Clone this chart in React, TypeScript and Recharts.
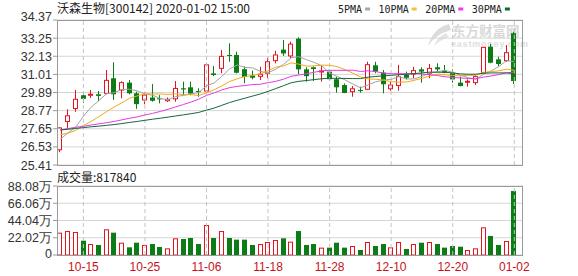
import React from 'react';
import { ComposedChart, Bar, Line, XAxis, YAxis, CartesianGrid, ReferenceLine } from 'recharts';

const title = '沃森生物[300142] 2020-01-02 15:00';
const volumeLabel = '成交量';

const dates = [
  '10-10', '10-11', '10-14', '10-15', '10-16', '10-17', '10-18', '10-21', '10-22', '10-23',
  '10-24', '10-25', '10-28', '10-29', '10-30', '10-31', '11-01', '11-04', '11-05', '11-06',
  '11-07', '11-08', '11-11', '11-12', '11-13', '11-14', '11-15', '11-18', '11-19', '11-20',
  '11-21', '11-22', '11-25', '11-26', '11-27', '11-28', '11-29', '12-02', '12-03', '12-04',
  '12-05', '12-06', '12-09', '12-10', '12-11', '12-12', '12-13', '12-16', '12-17', '12-18',
  '12-19', '12-20', '12-23', '12-24', '12-25', '12-26', '12-27', '12-30', '12-31', '01-02',
];

const open = [
  26.35, 28.1, 28.9, 29.72, 29.72, 29.78, 29.84, 30.77, 30.04, 30.5,
  29.84, 29.43, 29.58, 29.53, 29.38, 29.5, 30.15, 30.21, 29.98, 29.98,
  31.07, 31.38, 32.21, 32.21, 31.33, 30.95, 30.89, 31.08, 31.86, 32.54,
  32.15, 33.22, 31.32, 31.45, 31.16, 31.18, 30.71, 30.35, 29.94, 30.04,
  30.09, 31.57, 31.12, 30.12, 30.32, 31.0, 31.03, 31.32, 31.08, 31.45,
  31.24, 31.08, 30.5, 30.52, 30.5, 31.11, 32.72, 31.94, 31.86, 33.55,
];
const high = [
  27.75, 28.85, 30.05, 29.92, 30.05, 29.98, 31.28, 31.76, 30.58, 30.66,
  29.94, 29.88, 30.41, 29.73, 29.58, 30.6, 30.56, 30.56, 30.15, 31.73,
  31.53, 32.52, 32.93, 32.41, 31.5, 31.24, 31.48, 32.04, 32.47, 33.13,
  33.03, 33.3, 31.45, 31.5, 31.53, 31.3, 30.87, 30.45, 30.29, 30.25,
  31.79, 31.79, 31.28, 30.6, 31.6, 31.18, 31.48, 31.45, 31.65, 31.69,
  31.59, 31.32, 30.87, 30.7, 30.97, 32.7, 32.9, 32.1, 32.82, 33.65,
];
const low = [
  26.2, 27.7, 28.7, 29.26, 29.55, 29.36, 29.78, 29.43, 29.53, 29.78,
  28.88, 29.16, 29.33, 29.22, 29.3, 29.32, 29.73, 29.72, 29.63, 29.9,
  30.9, 31.08, 31.79, 31.07, 30.46, 30.7, 30.66, 30.77, 31.69, 32.15,
  31.98, 31.01, 30.56, 30.6, 30.56, 30.6, 29.88, 29.85, 29.63, 29.88,
  30.04, 31.08, 29.84, 30.0, 30.0, 30.7, 30.77, 30.5, 30.77, 31.18,
  31.08, 30.5, 30.27, 30.25, 30.35, 31.07, 31.7, 31.52, 31.79, 30.42,
];
const close = [
  27.7, 28.45, 29.47, 29.5, 29.78, 29.68, 30.64, 29.78, 30.5, 29.84,
  29.17, 29.73, 29.38, 29.47, 29.47, 30.14, 30.08, 29.82, 29.92, 31.6,
  30.97, 32.12, 32.15, 31.11, 30.85, 30.8, 31.02, 31.79, 32.21, 32.3,
  32.88, 31.32, 30.9, 31.34, 31.22, 30.71, 30.21, 29.86, 30.12, 29.98,
  31.61, 31.18, 30.4, 30.35, 30.87, 30.8, 31.24, 31.18, 31.38, 31.32,
  31.11, 30.7, 30.29, 30.58, 30.87, 32.68, 31.73, 31.65, 32.35, 30.6,
];
const volume = [
  285000, 306000, 294000, 183000, 140000, 128000, 328000, 285000, 157000, 98000,
  157000, 128000, 140000, 102000, 85000, 213000, 204000, 217000, 140000, 383000,
  217000, 306000, 217000, 196000, 196000, 128000, 140000, 166000, 191000, 213000,
  170000, 306000, 128000, 140000, 94000, 94000, 157000, 94000, 115000, 64000,
  166000, 115000, 140000, 98000, 166000, 77000, 140000, 157000, 166000, 140000,
  94000, 115000, 106000, 64000, 85000, 353000, 243000, 128000, 179000, 817840,
];
const ma5 = [
  27.0, 27.4, 27.75, 28.42, 28.98, 29.38, 29.81, 29.88, 30.08, 30.09,
  29.99, 29.8, 29.72, 29.52, 29.44, 29.64, 29.71, 29.8, 29.89, 30.31,
  30.48, 30.89, 31.35, 31.59, 31.44, 31.41, 31.19, 31.11, 31.33, 31.62,
  32.04, 32.1, 31.92, 31.75, 31.53, 31.1, 30.88, 30.67, 30.42, 30.18,
  30.36, 30.55, 30.66, 30.7, 30.88, 30.72, 30.73, 30.89, 31.09, 31.18,
  31.25, 31.14, 30.96, 30.8, 30.71, 31.02, 31.23, 31.5, 31.86, 31.8,
];
const ma10 = [
  27.28, 27.38, 27.55, 27.85, 28.1, 28.4, 28.7, 29.0, 29.25, 29.53,
  29.68, 29.81, 29.8, 29.8, 29.77, 29.81, 29.76, 29.76, 29.7, 29.88,
  30.06, 30.3, 30.57, 30.74, 30.88, 30.94, 31.04, 31.23, 31.46, 31.53,
  31.72, 31.64, 31.52, 31.54, 31.58, 31.57, 31.49, 31.3, 31.09, 30.85,
  30.73, 30.71, 30.66, 30.56, 30.53, 30.54, 30.64, 30.77, 30.9, 31.03,
  30.98, 30.94, 30.92, 30.95, 30.95, 31.14, 31.18, 31.23, 31.33, 31.26,
];
const ma20 = [
  27.58, 27.66, 27.74, 27.8, 27.88, 27.95, 28.02, 28.1, 28.2, 28.3,
  28.38, 28.5, 28.6, 28.72, 28.85, 29.0, 29.15, 29.3, 29.48, 29.71,
  29.87, 30.05, 30.19, 30.27, 30.32, 30.38, 30.4, 30.5, 30.58, 30.71,
  30.89, 30.97, 31.05, 31.14, 31.23, 31.26, 31.26, 31.26, 31.27, 31.19,
  31.23, 31.18, 31.09, 31.05, 31.05, 31.05, 31.06, 31.03, 30.99, 30.94,
  30.86, 30.82, 30.79, 30.76, 30.74, 30.84, 30.91, 31.0, 31.11, 31.14,
];
const ma30 = [
  27.57, 27.62, 27.67, 27.72, 27.77, 27.81, 27.86, 27.91, 27.97, 28.04,
  28.1, 28.17, 28.24, 28.3, 28.37, 28.44, 28.51, 28.58, 28.66, 28.8,
  28.93, 29.1, 29.27, 29.41, 29.54, 29.67, 29.8, 29.96, 30.13, 30.31,
  30.49, 30.58, 30.63, 30.69, 30.74, 30.77, 30.76, 30.76, 30.75, 30.75,
  30.84, 30.88, 30.92, 30.95, 30.99, 31.02, 31.06, 31.1, 31.15, 31.14,
  31.14, 31.1, 31.04, 31.02, 31.02, 31.08, 31.1, 31.1, 31.1, 31.05,
];

const priceTicks = [25.41, 26.53, 27.65, 28.77, 29.89, 31.01, 32.13, 33.25, 34.37];
const volumeTicks = [0, 220200, 440400, 660600, 880800];
const tickDates = ['10-15', '10-25', '11-06', '11-18', '11-28', '12-10', '12-20', '01-02'];
const legendLabels = ['5PMA', '10PMA', '20PMA', '30PMA'];

// styles
const RED = '#e3141e';
const GREEN = '#0b7d14';
const MA_COLORS = ['#a2a2a2', '#f0aa18', '#e53ae0', '#17663a'];
const LEGEND_COLORS = ['#a8a8a8', '#f5c23a', '#ee3cee', '#0c6b2c'];
const FONT = "'Liberation Sans', Arial, sans-serif";
const CJK = "'Noto Sans CJK SC', 'Noto Sans', sans-serif";
const MONO = "'DejaVu Sans Mono', 'Liberation Mono', monospace";
const BORDER = '#9a9a9a';
const GRID = '#d6d6d6';
const VGRID = '#c4c4c4';

const PLOT_L = 57;
const PLOT_R = 523;
const P_TOP = 20;
const P_BOT = 165;
const P_H = 178;
const V_TOP = 186;
const V_BOT = 255;
const X_DOMAIN: [number, number] = [-0.43, 60.13];

function CandleShape(props: any) {
  const { x, y, width, height, payload } = props;
  if (x == null || y == null || !payload) return null;
  const top = Math.min(y, y + height);
  const bot = Math.max(y, y + height);
  const span = payload.high - payload.low;
  const py = (v: number) => (span > 0 ? top + ((payload.high - v) / span) * (bot - top) : top);
  const up = payload.close >= payload.open;
  const cx = Math.floor(x + width / 2) + 0.5;
  const yo = py(payload.open);
  const yc = py(payload.close);
  const bt = Math.min(yo, yc);
  let bb = Math.max(yo, yc);
  if (bb - bt < 1) bb = bt + 1;
  if (up) {
    return (
      <g>
        <line x1={cx} x2={cx} y1={top} y2={bt} stroke={RED} strokeWidth={1} />
        <line x1={cx} x2={cx} y1={bb} y2={bot} stroke={RED} strokeWidth={1} />
        <rect x={cx - 2} y={bt} width={4} height={bb - bt} fill="#ffffff" stroke={RED} strokeWidth={1} />
      </g>
    );
  }
  return (
    <g>
      <line x1={cx} x2={cx} y1={top} y2={bot} stroke={GREEN} strokeWidth={1} />
      <rect x={cx - 2.5} y={bt} width={5} height={bb - bt} fill={GREEN} />
    </g>
  );
}

function VolumeShape(props: any) {
  const { x, y, width, height, payload } = props;
  if (x == null || y == null || !payload) return null;
  const up = payload.close >= payload.open;
  const cx = Math.floor(x + width / 2) + 0.5;
  const top = Math.min(y, y + height);
  const h = Math.abs(height);
  if (up) {
    return <rect x={cx - 2} y={top + 0.5} width={4} height={Math.max(h - 0.5, 0)} fill="#ffffff" stroke={RED} strokeWidth={1} />;
  }
  return <rect x={cx - 2.5} y={top} width={5} height={h} fill={GREEN} />;
}

function PriceTick(props: any) {
  const { x, y, payload } = props;
  const isTop = payload.value === priceTicks[priceTicks.length - 1];
  return (
    <text x={x} y={y + (isTop ? -4 : 0)} dy="0.36em" textAnchor="end" fontSize={12.5} fontFamily={FONT} fill="#333">
      {Number(payload.value).toFixed(2)}
    </text>
  );
}

function VolumeTick(props: any) {
  const { x, y, payload } = props;
  const v = payload.value;
  const label = v === 0 ? '0' : (v / 10000).toFixed(2) + '万';
  return (
    <text x={x} y={y + (v === 0 ? -2 : 0)} dy="0.36em" textAnchor="end" fontSize={12.5} fontFamily={FONT} fill="#333">
      {label}
    </text>
  );
}

export default function App() {
  const data = dates.map((d, i) => ({
    i,
    date: d,
    open: open[i],
    high: high[i],
    low: low[i],
    close: close[i],
    vol: volume[i],
    ma5: ma5[i],
    ma10: ma10[i],
    ma20: ma20[i],
    ma30: ma30[i],
  }));
  const tickIdx = tickDates.map((d) => dates.indexOf(d));
  const maKeys = ['ma5', 'ma10', 'ma20', 'ma30'];

  let lx = 338;
  const legend = legendLabels.map((lab, k) => {
    const tx = lx;
    const tw = lab.length * 6.02;
    const dx = tx + tw + 3;
    lx = dx + 5 + 8.5;
    return (
      <g key={lab}>
        <text x={tx} y={12.5} fontSize={10} fontFamily={MONO} fill="#222">{lab}</text>
        <rect x={dx} y={7.5} width={5} height={3} fill={LEGEND_COLORS[k]} />
      </g>
    );
  });

  return (
    <div style={{ position: 'absolute', left: 0, top: 0, width: 578, height: 276, background: '#fff', overflow: 'hidden' }}>
      <svg style={{ position: 'absolute', left: 0, top: 0 }} width={578} height={276}>
        <path d="M449 24 Q433 28 428 46 Q436 34 451 30 Z" fill="#dcdcdc" />
        <path d="M446 33 Q437 37 434 46 Q440 40 449 37 Z" fill="#e4e4e4" />
        <text x={452} y={35.5} fontSize={13.5} fontWeight="bold" fontFamily={CJK} fill="#d9d9d9">东方财富网</text>
        <text x={451} y={46.5} fontSize={9} fontWeight="bold" fontFamily={FONT} fill="#dedede" letterSpacing={0.8}>eastmoney.com</text>
      </svg>

      <div style={{ position: 'absolute', left: 0, top: 0 }}>
        <ComposedChart width={578} height={P_H} data={data} margin={{ top: P_TOP, right: 578 - PLOT_R, bottom: P_H - P_BOT, left: 0 }}>
          <CartesianGrid vertical={false} stroke={GRID} />
          <XAxis type="number" dataKey="i" domain={X_DOMAIN} ticks={tickIdx} hide allowDataOverflow />
          <YAxis
            type="number"
            domain={[priceTicks[0], priceTicks[priceTicks.length - 1]]}
            ticks={priceTicks}
            interval={0}
            width={PLOT_L}
            tickSize={4}
            tickMargin={1}
            axisLine={false}
            tickLine={{ stroke: BORDER }}
            tick={<PriceTick />}
            allowDataOverflow
          />
          {tickIdx.map((t) => (
            <ReferenceLine key={'p' + t} x={t} stroke={VGRID} strokeDasharray="4 3" />
          ))}
          <Bar
            dataKey={(d: any) => [d.low, d.high]}
            barSize={5}
            isAnimationActive={false}
            shape={(p: any) => <CandleShape {...p} />}
          />
          {maKeys.map((k, n) => (
            <Line key={k} type="linear" dataKey={k} stroke={MA_COLORS[n]} strokeWidth={1} dot={false} activeDot={false} isAnimationActive={false} />
          ))}
        </ComposedChart>
      </div>

      <div style={{ position: 'absolute', left: 0, top: 170 }}>
        <ComposedChart width={578} height={106} data={data} margin={{ top: V_TOP - 170, right: 578 - PLOT_R, bottom: 0, left: 0 }}>
          <CartesianGrid vertical={false} stroke={GRID} />
          <XAxis
            type="number"
            dataKey="i"
            domain={X_DOMAIN}
            ticks={tickIdx}
            interval={0}
            height={276 - V_BOT}
            tickFormatter={(v: number) => dates[v]}
            axisLine={false}
            tickLine={false}
            tickSize={6}
            tickMargin={1}
            tick={{ fontSize: 12, fill: '#c8101a', fontFamily: FONT }}
            allowDataOverflow
          />
          <YAxis
            type="number"
            domain={[volumeTicks[0], volumeTicks[volumeTicks.length - 1]]}
            ticks={volumeTicks}
            interval={0}
            width={PLOT_L}
            tickSize={4}
            tickMargin={1}
            axisLine={false}
            tickLine={{ stroke: BORDER }}
            tick={<VolumeTick />}
            allowDataOverflow
          />
          {tickIdx.map((t) => (
            <ReferenceLine key={'v' + t} x={t} stroke={VGRID} strokeDasharray="4 3" />
          ))}
          <Bar dataKey="vol" barSize={5} isAnimationActive={false} shape={(p: any) => <VolumeShape {...p} />} />
        </ComposedChart>
      </div>

      <svg style={{ position: 'absolute', left: 0, top: 0, pointerEvents: 'none' }} width={578} height={276}>
        <text x={57} y={12.5} fontSize={12} fontFamily={CJK} fill="#222">{title}</text>
        {legend}
        <text x={57} y={181.5} fontSize={12} fontFamily={CJK} fill="#222">{volumeLabel + ':' + volume[volume.length - 1]}</text>
        <rect x={PLOT_L + 0.5} y={P_TOP + 0.5} width={PLOT_R - PLOT_L - 1} height={P_BOT - P_TOP} fill="none" stroke={BORDER} strokeWidth={1} />
        <rect x={PLOT_L + 0.5} y={V_TOP + 0.5} width={PLOT_R - PLOT_L - 1} height={V_BOT - V_TOP} fill="none" stroke={BORDER} strokeWidth={1} />
      </svg>
    </div>
  );
}
